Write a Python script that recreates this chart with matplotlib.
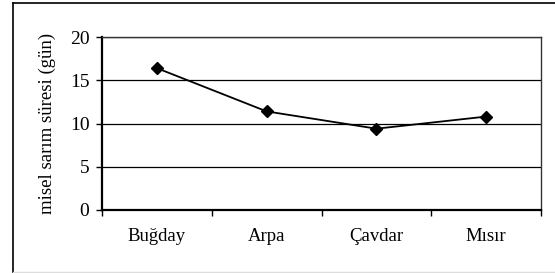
import numpy as np
import matplotlib.pyplot as plt
from matplotlib.lines import Line2D

# Data
categories = ['Buğday', 'Arpa', 'Çavdar', 'Mısır']
values = [16.4, 11.4, 9.4, 10.8]
y_ticks = [0, 5, 10, 15, 20]

plt.rcParams['font.family'] = ['Liberation Serif', 'DejaVu Serif']
plt.rcParams['font.size'] = 14

fig = plt.figure(figsize=(5.55, 2.73), dpi=100)
ax = fig.add_axes([102 / 555, 1 - 210 / 273, (541 - 102) / 555, (210 - 37) / 273])

x = np.arange(len(categories))
ax.plot(x, values, color='black', linewidth=1.3, marker='D', markersize=6.5,
        markerfacecolor='black', markeredgecolor='black', zorder=3)

ax.set_xlim(-0.5, len(categories) - 0.5)
ax.set_ylim(0, 20)
ax.set_yticks(y_ticks)
ax.yaxis.grid(True, color='black', linewidth=0.9)
ax.set_axisbelow(True)

# boundaries as major ticks, names at category centres
ax.set_xticks(np.arange(len(categories) + 1) - 0.5)
ax.set_xticklabels([])
ax.set_xticks(x, minor=True)
ax.set_xticklabels(categories, minor=True)
ax.tick_params(axis='x', which='major', direction='out', length=4, width=1)
ax.tick_params(axis='x', which='minor', length=0, pad=13, labelsize=13.5)
ax.tick_params(axis='y', direction='out', length=4, width=1, pad=5, labelsize=14)

for s in ['left', 'bottom']:
    ax.spines[s].set_linewidth(1.6)
for s in ['top', 'right']:
    ax.spines[s].set_linewidth(1.0)
    ax.spines[s].set_color('#333333')

ax.set_ylabel('misel sarım süresi (gün)', fontsize=13.5, labelpad=10)

# outer chart border (cut off at right/bottom)
fig.add_artist(Line2D([13 / 555, 13 / 555], [0, 1 - 3 / 273], color='black', linewidth=1.2))
fig.add_artist(Line2D([13 / 555, 1], [1 - 3 / 273, 1 - 3 / 273], color='black', linewidth=1.2))
fig.add_artist(Line2D([13 / 555, 1], [1.5 / 273, 1.5 / 273], color='#dddddd', linewidth=1.0))

fig.savefig('out.png', dpi=100)
